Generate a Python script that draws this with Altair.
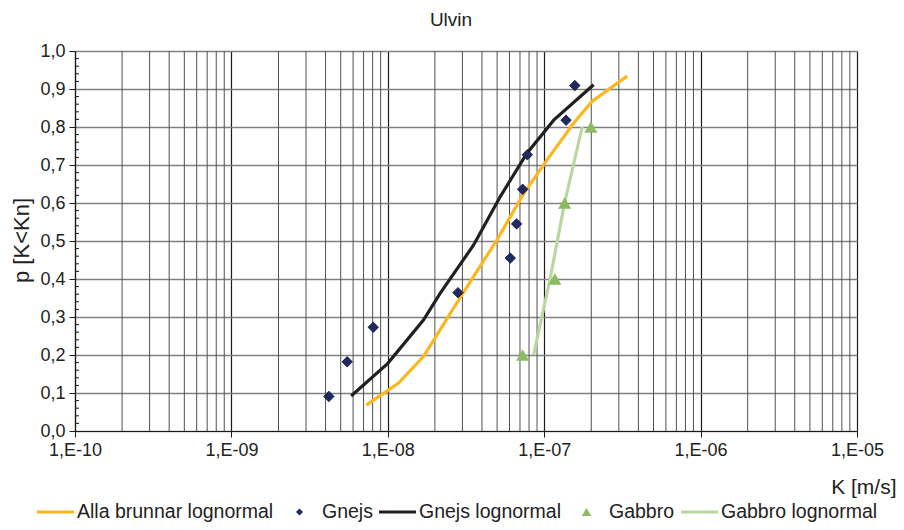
import altair as alt
import pandas as pd

SERIES = ["Alla brunnar lognormal", "Gnejs", "Gnejs lognormal", "Gabbro", "Gabbro lognormal"]
COLORS = ["#FDB71E", "#1F2A63", "#231F20", "#8DBB60", "#B9D8A0"]
# legend-only styling (stroke of point entries is transparent padding)
LEG_STROKES = ["#FDB71E", "transparent", "#231F20", "transparent", "#B9D8A0"]
LEG_FILLS = ["transparent", "#1F2A63", "transparent", "#8DBB60", "transparent"]
SHAPES = ["stroke", "diamond", "stroke", "triangle-up", "stroke"]
LEG_SIZES = [1369, 50, 1369, 90, 1369]
LEG_WIDTHS = [3.2, 35, 3.2, 33, 3.2]

# Gnejs measurements
gnejs_k = [4.2e-9, 5.5e-9, 8.07e-9, 2.81e-8, 6.07e-8, 6.66e-8, 7.28e-8, 7.8e-8, 1.38e-7, 1.57e-7]
gnejs_p = [0.091, 0.182, 0.273, 0.364, 0.455, 0.545, 0.636, 0.727, 0.818, 0.909]
# Gabbro measurements
gabbro_k = [7.28e-8, 1.17e-7, 1.35e-7, 1.99e-7]
gabbro_p = [0.2, 0.4, 0.6, 0.8]
# Lognormal fits
alla_k = [7.28e-9, 1.17e-8, 1.69e-8, 2.16e-8, 2.63e-8, 3.53e-8, 4.99e-8, 7.4e-8, 1.04e-7, 1.54e-7, 2.02e-7, 3.39e-7]
alla_p = [0.068, 0.126, 0.196, 0.266, 0.323, 0.406, 0.503, 0.625, 0.713, 0.81, 0.867, 0.934]
gnejs_ln_k = [5.83e-9, 1.0e-8, 1.69e-8, 2.16e-8, 3.53e-8, 5.24e-8, 7.76e-8, 1.15e-7, 2.07e-7]
gnejs_ln_p = [0.092, 0.178, 0.292, 0.362, 0.489, 0.617, 0.731, 0.818, 0.911]
gabbro_ln_k = [8.55e-8, 1.09e-7, 1.35e-7, 1.75e-7]
gabbro_ln_p = [0.2, 0.4, 0.6, 0.8]

# axis / grid values
decades = [1e-10, 1e-9, 1e-8, 1e-7, 1e-6, 1e-5]
minor_x = [m * d for d in decades[:-1] for m in range(2, 10)]
y_major = [round(i * 0.1, 1) for i in range(11)]
y_minor = [round(i * 0.02, 2) for i in range(51) if i % 5 != 0]

xscale = alt.Scale(type="log", domain=[1e-10, 1e-5], nice=False)
yscale = alt.Scale(domain=[0, 1], nice=False)

FONT = "Liberation Sans, Arial, sans-serif"

x_axis = alt.Axis(
    values=decades, title="K [m/s]",
    labelExpr="'1,E-' + (round(-log(datum.value)/LN10) < 10 ? '0' : '') + round(-log(datum.value)/LN10)",
    labelFont=FONT, labelFontSize=18, labelColor="#222", labelPadding=4,
    labelFlush=False, labelOverlap=False,
    grid=True, gridColor="#1a1a1a", gridWidth=1.2, tickColor="#1a1a1a", tickSize=6,
    domainColor="#1a1a1a", domainWidth=1.2,
    titleFont=FONT, titleFontSize=21, titleFontWeight="normal", titleColor="#222",
    titleAnchor="end", titleAlign="right", titleBaseline="middle", titleX=821, titleY=56,
)
y_axis = alt.Axis(
    values=y_major, title="p [K<Kn]",
    labelExpr="replace(format(datum.value, '.1f'), '.', ',')",
    labelFont=FONT, labelFontSize=18, labelColor="#222", labelPadding=4,
    labelFlush=False, labelOverlap=False,
    grid=True, gridColor="#808080", gridWidth=1.3, tickColor="#1a1a1a", tickSize=6,
    domainColor="#1a1a1a", domainWidth=1.2,
    titleFont=FONT, titleFontSize=22, titleFontWeight="normal", titleColor="#222",
    titleAngle=270, titleAlign="center", titleBaseline="middle", titleX=-54, titleY=189,
)

X = alt.X("K:Q", scale=xscale, axis=x_axis)
Y = alt.Y("p:Q", scale=yscale, axis=y_axis)

base_grid = alt.Chart(pd.DataFrame({"K": minor_x})).mark_rule(color="#505050", strokeWidth=1).encode(x=X)
ymin_ticks = alt.Chart(pd.DataFrame({"p": y_minor})).mark_rule(color="#1a1a1a", strokeWidth=1).encode(
    y=Y, x=alt.value(0), x2=alt.value(4),
)


def line(k, p, color):
    df = pd.DataFrame({"K": k, "p": p, "i": range(len(k))})
    return alt.Chart(df).mark_line(color=color, strokeWidth=3.2).encode(x=X, y=Y, order="i:Q")


alla_layer = line(alla_k, alla_p, COLORS[0])
gnejs_ln_layer = line(gnejs_ln_k, gnejs_ln_p, COLORS[2])
gabbro_ln_layer = line(gabbro_ln_k, gabbro_ln_p, COLORS[4])

gnejs_layer = alt.Chart(pd.DataFrame({"K": gnejs_k, "p": gnejs_p})).mark_point(
    shape="diamond", filled=True, size=110, opacity=1, color=COLORS[1], stroke="#0e1433", strokeWidth=0.8
).encode(x=X, y=Y)
gabbro_layer = alt.Chart(pd.DataFrame({"K": gabbro_k, "p": gabbro_p})).mark_point(
    shape="triangle-up", filled=True, size=170, opacity=1, color=COLORS[3]
).encode(x=X, y=Y)

# legend-only layer (no drawable rows: positions are missing)
legend_df = pd.DataFrame({"series": SERIES, "K": [None] * 5, "p": [None] * 5})
legend = alt.Legend(
    title=None, orient="none", direction="horizontal", legendX=-40, legendY=450,
    labelFont=FONT, labelFontSize=19.5, labelColor="#222", labelOffset=1,
    columnPadding=4, labelLimit=400, clipHeight=22,
)
legend_layer = alt.Chart(legend_df).mark_point(filled=False, opacity=1).encode(
    x=X, y=Y,
    color=alt.Color("series:N", scale=alt.Scale(domain=SERIES, range=LEG_STROKES), legend=legend),
    fill=alt.Fill("series:N", scale=alt.Scale(domain=SERIES, range=LEG_FILLS), legend=legend),
    shape=alt.Shape("series:N", scale=alt.Scale(domain=SERIES, range=SHAPES), legend=legend),
    size=alt.Size("series:N", scale=alt.Scale(type="ordinal", domain=SERIES, range=LEG_SIZES), legend=legend),
    strokeWidth=alt.StrokeWidth("series:N", scale=alt.Scale(type="ordinal", domain=SERIES, range=LEG_WIDTHS),
                                legend=legend),
)

chart = alt.layer(base_grid, ymin_ticks, alla_layer, gnejs_ln_layer, gabbro_ln_layer,
                  gnejs_layer, gabbro_layer, legend_layer).properties(
    width=782, height=380,
    title=alt.TitleParams("Ulvin", font=FONT, fontSize=19, fontWeight="normal", color="#222",
                          anchor="middle", dx=-15, offset=12),
    autosize=alt.AutoSizeParams(type="none"),
    padding={"left": 67, "top": 43, "right": 39, "bottom": 91},
).configure_view(stroke=None).configure(background="white")

chart.save("out.html", embed_options={"renderer": "svg", "actions": False})
